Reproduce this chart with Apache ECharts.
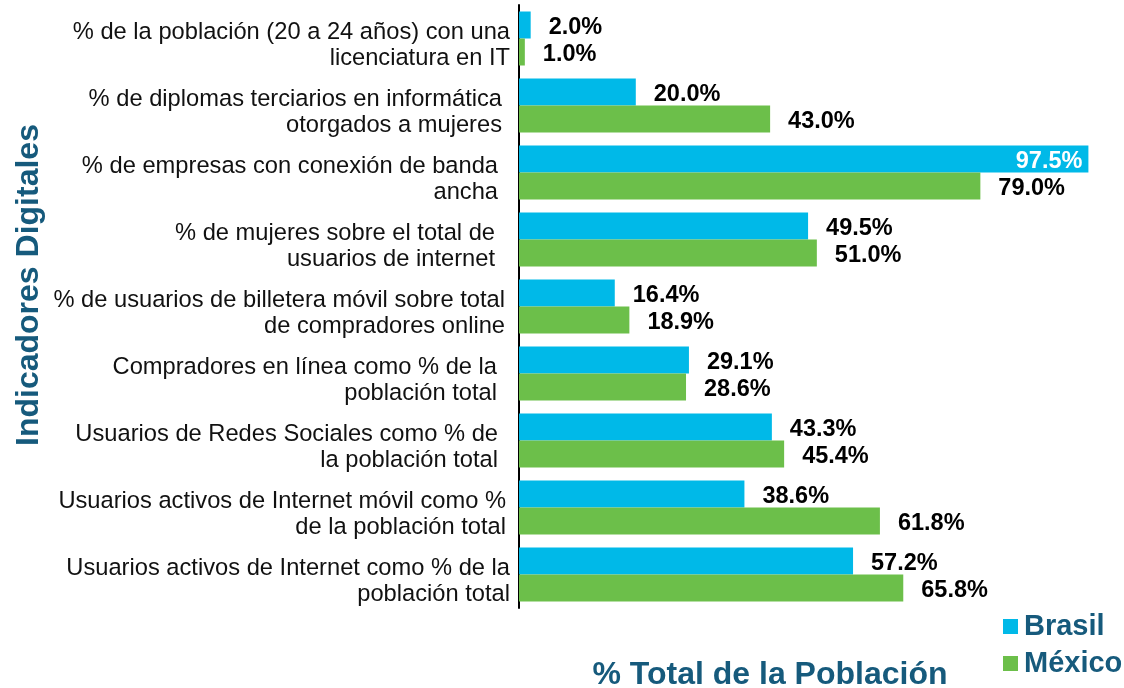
<!DOCTYPE html>
<html>
<head>
<meta charset="utf-8">
<script src="https://cdn.jsdelivr.net/npm/echarts@6/dist/echarts.min.js"></script>
<style>html,body{margin:0;padding:0;background:#fff;}#c{width:1124px;height:688px;}</style>
</head>
<body>
<div id="c"></div>
<script>
const categories = [
  "% de la población (20 a 24 años) con una\nlicenciatura en IT",
  "% de diplomas terciarios en informática\notorgados a mujeres",
  "% de empresas con conexión de banda\nancha",
  "% de mujeres sobre el total de\nusuarios de internet",
  "% de usuarios de billetera móvil sobre total\nde compradores online",
  "Compradores en línea como % de la\npoblación total",
  "Usuarios de Redes Sociales como % de\nla población total",
  "Usuarios activos de Internet móvil como %\nde la población total",
  "Usuarios activos de Internet como % de la\npoblación total"
];
const brasil = [2.0, 20.0, 97.5, 49.5, 16.4, 29.1, 43.3, 38.6, 57.2];
const mexico = [1.0, 43.0, 79.0, 51.0, 18.9, 28.6, 45.4, 61.8, 65.8];
const seriesNames = ["Brasil", "México"];

// style: right padding of each category label (trailing space in original)
const labelPad = [2, 10, 14, 17, 7, 15, 14, 6, 2];

const titleColor = '#165a7c';
const font = 'Liberation Sans, Arial, sans-serif';

const rich = {};
labelPad.forEach((p, i) => {
  rich['r' + i] = { fontSize: 23.7, lineHeight: 26, color: '#111', fontFamily: font, padding: [0, p, 0, 0], align: 'right' };
});

const chart = echarts.init(document.getElementById('c'));
const valueLabel = {
  show: true, position: 'right', distance: 18, offset: [0, 3],
  fontSize: 23.5, fontWeight: 'bold', color: '#000', fontFamily: font,
  formatter: p => p.value.toFixed(1) + '%'
};
chart.setOption({
  animation: false,
  textStyle: { fontFamily: font },
  grid: { left: 519, right: 21, top: 5, bottom: 80, containLabel: false },
  legend: {
    orient: 'vertical', left: 998, top: 607,
    itemWidth: 15, itemHeight: 15, itemGap: 8,
    icon: 'rect',
    textStyle: { fontSize: 29, fontWeight: 'bold', color: titleColor, lineHeight: 29, fontFamily: font, padding: [0, 0, 0, 1] },
    data: seriesNames
  },
  xAxis: {
    type: 'value', min: 0, max: 100,
    axisLine: { show: false }, axisTick: { show: false },
    axisLabel: { show: false }, splitLine: { show: false }
  },
  yAxis: {
    type: 'category', inverse: true, data: categories,
    axisLine: { show: true, lineStyle: { color: '#000', width: 2 } },
    axisTick: { show: false },
    axisLabel: {
      margin: 7, fontSize: 23.7, lineHeight: 26, color: '#111',
      padding: [14, 0, 0, 0],
      formatter: (v, i) => '{r' + i + '|' + v + '}',
      rich: rich
    }
  },
  series: [
    {
      name: seriesNames[0], type: 'bar', barWidth: 27, barGap: '0%',
      itemStyle: { color: '#00b9e8' },
      label: valueLabel,
      data: brasil.map(v => v > 90 ? { value: v, label: { position: 'insideRight', color: '#fff', distance: 6 } } : v)
    },
    {
      name: seriesNames[1], type: 'bar', barWidth: 27, barGap: '0%',
      itemStyle: { color: '#6cbf4a' },
      label: valueLabel,
      data: mexico
    }
  ],
  graphic: [
    {
      type: 'text', x: 29, y: 285, rotation: Math.PI / 2,
      style: { text: 'Indicadores Digitales', fontSize: 32, fontWeight: 'bold', fill: titleColor, fontFamily: font, textAlign: 'center', textVerticalAlign: 'middle' }
    },
    {
      type: 'text', x: 770, y: 675,
      style: { text: '% Total de la Población', fontSize: 32, fontWeight: 'bold', fill: titleColor, fontFamily: font, textAlign: 'center', textVerticalAlign: 'middle' }
    }
  ]
});
</script>
</body>
</html>
